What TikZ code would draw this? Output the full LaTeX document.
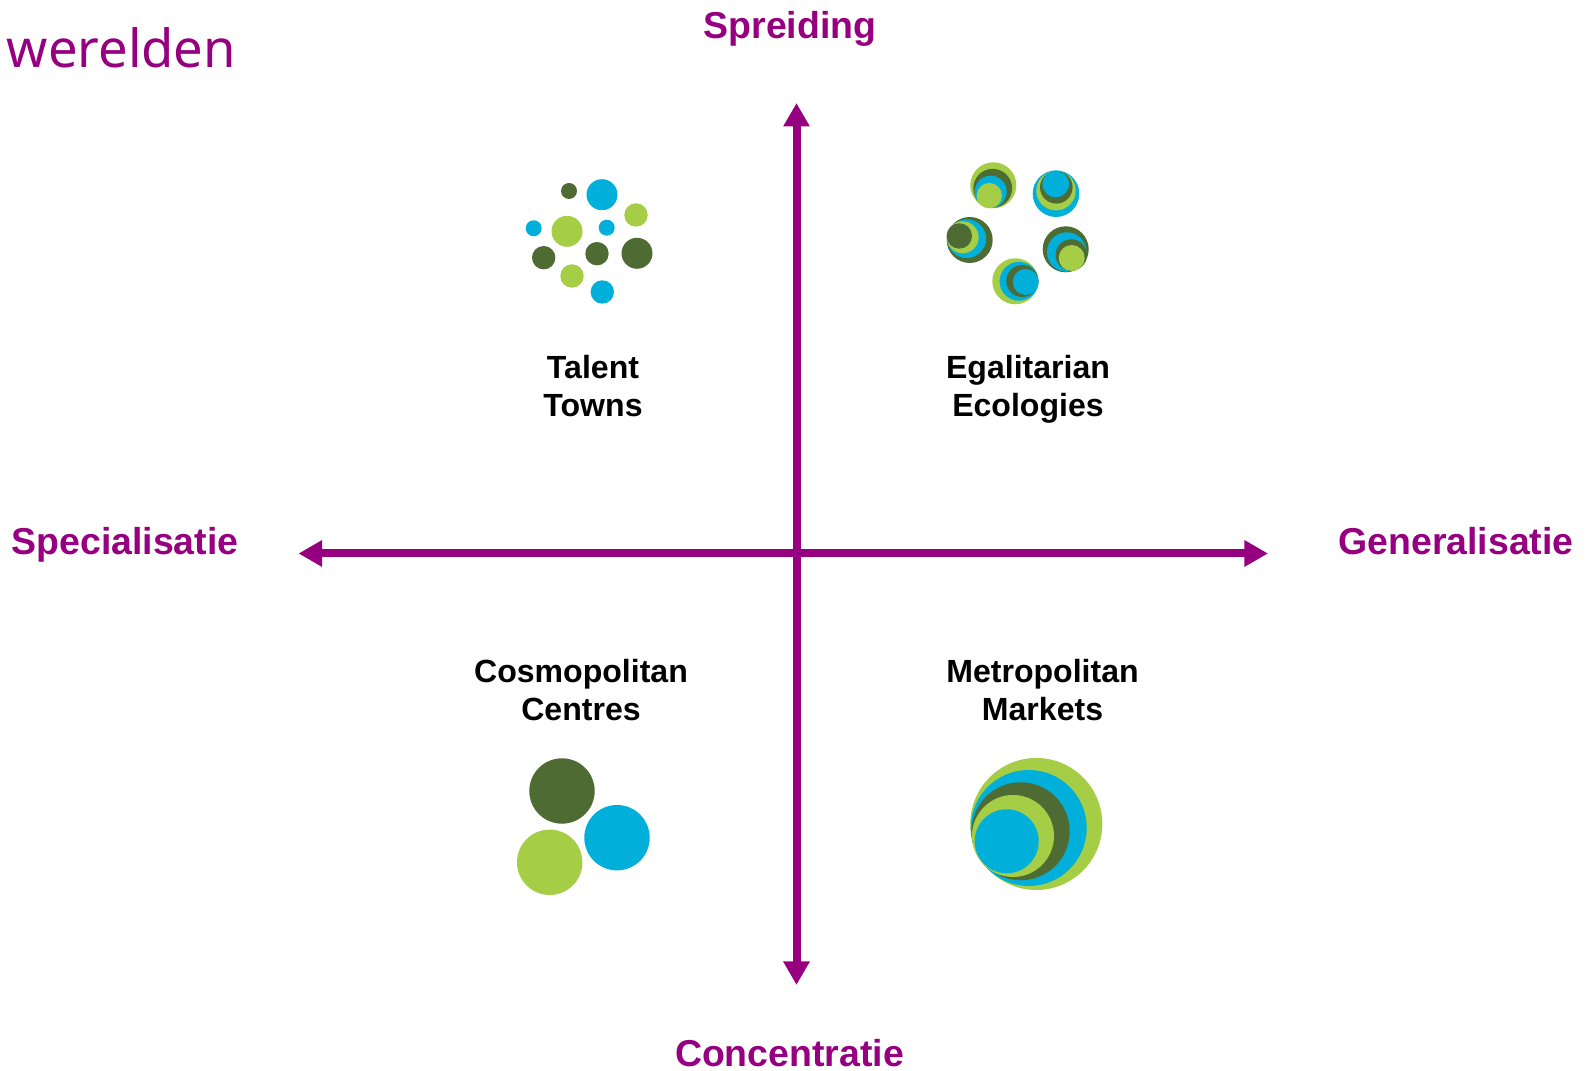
\documentclass[tikz,border=0pt]{standalone}
\usepackage{fontspec}
\setmainfont{Liberation Sans}
\newfontfamily\titlefont{Noto Sans}
\usetikzlibrary{arrows.meta}
\definecolor{axispurple}{HTML}{960080}
\definecolor{dotgreen}{HTML}{A5CD45}
\definecolor{dotblue}{HTML}{00B0DB}
\definecolor{dotdark}{HTML}{4D6B33}
\tikzset{
  axisline/.style={color=axispurple,line width=.08cm,{Triangle[length=.235cm,width=.25cm]}-{Triangle[length=.235cm,width=.25cm]}},
  axislabel/.style={color=axispurple,font=\bfseries\fontsize{10.65}{12}\selectfont,inner sep=0pt,anchor=base},
  worldlabel/.style={color=black,align=center,font=\bfseries\fontsize{9.12}{10.8}\selectfont,inner sep=0pt}
}
\begin{document}
\begin{tikzpicture}[x=.01cm,y=-.01cm]
  \useasboundingbox(0,0)rectangle(1587,1071);
  \coordinate(N)at(796.5,103);
  \coordinate(S)at(796.5,985);
  \coordinate(W)at(298.5,553.5);
  \coordinate(E)at(1268,553.5);
  \draw[axisline](S)--(N);
  \draw[axisline](W)--(E);
  \node[color=axispurple,inner sep=0pt,font=\titlefont\fontsize{14.95}{18}\selectfont,anchor=base west](werelden)at(6,68){werelden};
  \node[axislabel](spreiding)at(790,38.5){Spreiding};
  \node[axislabel](concentratie)at(789.5,1066.5){Concentratie};
  \node[axislabel](specialisatie)at(125,554.5){Specialisatie};
  \node[axislabel](generalisatie)at(1456,554.5){Generalisatie};
  \node[worldlabel](talent)at(593,386){Talent\\Towns};
  \node[worldlabel](egalitarian)at(1028,389){Egalitarian\\Ecologies};
  \node[worldlabel](cosmopolitan)at(581,690){Cosmopolitan\\Centres};
  \node[worldlabel](metropolitan)at(1042.5,690){Metropolitan\\Markets};
  % talent towns
  \foreach \x/\y/\r/\c in {569/191/8/dotdark,602/194.7/15.5/dotblue,636/215/11.7/dotgreen,533.7/228.3/8/dotblue,567/231.3/15.5/dotgreen,606.7/227.7/8/dotblue,543.7/257.7/11.7/dotdark,597/253.7/11.7/dotdark,637/253.3/15.5/dotdark,572/276/11.7/dotgreen,602.3/292/11.7/dotblue}
    \fill[color=\c](\x,\y)circle(\r);
  % egalitarian ecologies
  \foreach \x/\y/\r/\c in {993.3/185.3/23/dotgreen,992.7/188.3/19.4/dotdark,990.7/191.7/16/dotblue,989.3/195.7/12.7/dotgreen,
    1056/193.7/23.3/dotblue,1056/190.7/19.7/dotgreen,1056.3/187.3/16.3/dotdark,1055.7/184/13.3/dotblue,
    969.7/240/23/dotdark,966.7/238.7/19.4/dotblue,962.7/237.3/16/dotgreen,959.3/236/12.7/dotdark,
    1065.7/249.3/23/dotdark,1066.7/252/19.7/dotblue,1071.3/255/15.7/dotdark,1071.7/258/13/dotgreen,
    1015.3/281.3/23/dotgreen,1019/281.3/19.4/dotblue,1022.3/281/16/dotdark,1025.7/282/13/dotblue}
    \fill[color=\c](\x,\y)circle(\r);
  % cosmopolitan centres
  \foreach \x/\y/\c in {562/791/dotdark,617/837.7/dotblue,549.7/862.3/dotgreen}
    \fill[color=\c](\x,\y)circle(32.7);
  % metropolitan markets
  \foreach \x/\y/\r/\c in {1036.3/824/66/dotgreen,1028.7/828/58/dotblue,1020.7/831.3/49/dotdark,1013/836/41/dotgreen,1006.7/841.3/32/dotblue}
    \fill[color=\c](\x,\y)circle(\r);
\end{tikzpicture}
\end{document}
